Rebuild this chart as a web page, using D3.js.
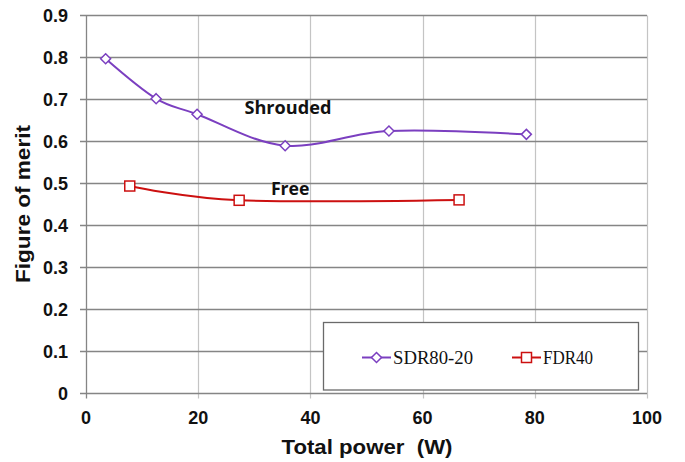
<!DOCTYPE html>
<html><head><meta charset="utf-8">
<script src="https://cdn.jsdelivr.net/npm/d3@7/dist/d3.min.js"></script>
<style>body{margin:0;background:#fff}svg{display:block}</style>
</head><body>
<svg id="c" width="685" height="462"></svg>
<script>
const sdrX = [3.5, 12.5, 19.8, 35.5, 54, 78.5];
const sdrY = [0.797, 0.702, 0.665, 0.590, 0.625, 0.617];
const fdrX = [7.8, 27.3, 66.5];
const fdrY = [0.494, 0.460, 0.461];
const xTicks = [0, 20, 40, 60, 80, 100];
const yTicks = [0, 0.1, 0.2, 0.3, 0.4, 0.5, 0.6, 0.7, 0.8, 0.9];
const seriesNames = ["SDR80-20", "FDR40"];
const annotations = [{text: "Shrouded", x: 36.0, y: 0.6655, w: 87}, {text: "Free", x: 36.4, y: 0.4726, w: 38.6}];

const svg = d3.select("#c");
const x = d3.scaleLinear().domain([0, 100]).range([86, 647]);
const y = d3.scaleLinear().domain([0, 0.9]).range([393.5, 15.5]);
const purple = "#7b3fc0", red = "#cc1010";

// vertical grid
svg.append("g").selectAll("line").data(xTicks.slice(1)).join("line")
  .attr("x1", d => Math.round(x(d)) + 0.5).attr("x2", d => Math.round(x(d)) + 0.5)
  .attr("y1", y(0.9)).attr("y2", y(0) + 5)
  .attr("stroke", "#c4c4c4").attr("stroke-width", 1.2);
// horizontal grid
svg.append("g").selectAll("line").data(yTicks).join("line")
  .attr("x1", 80).attr("x2", 647)
  .attr("y1", d => y(d)).attr("y2", d => y(d))
  .attr("stroke", "#858585").attr("stroke-width", 1.3);
// left axis line
svg.append("line").attr("x1", 86.5).attr("x2", 86.5).attr("y1", y(0.9)).attr("y2", y(0) + 5)
  .attr("stroke", "#858585").attr("stroke-width", 1.3);

// tick labels
svg.append("g").selectAll("text").data(yTicks).join("text")
  .attr("x", 68).attr("y", d => y(d) + 6.5)
  .attr("text-anchor", "end")
  .attr("font-family", "Liberation Sans, Arial, sans-serif").attr("font-weight", "bold").attr("font-size", 18)
  .attr("fill", "#111")
  .text(d => d === 0 ? "0" : d3.format(".1f")(d));
svg.append("g").selectAll("text").data(xTicks).join("text")
  .attr("x", d => x(d)).attr("y", 423.5)
  .attr("text-anchor", "middle")
  .attr("font-family", "Liberation Sans, Arial, sans-serif").attr("font-weight", "bold").attr("font-size", 18)
  .attr("fill", "#111")
  .text(d => d);

// axis titles
svg.append("text").attr("x", 367).attr("y", 453.5).attr("text-anchor", "middle")
  .attr("font-family", "Liberation Sans, Arial, sans-serif").attr("font-weight", "bold").attr("font-size", 20.5)
  .attr("textLength", 171).attr("lengthAdjust", "spacingAndGlyphs")
  .attr("fill", "#111").style("white-space", "pre").text("Total power  (W)");
svg.append("text").attr("transform", "translate(29.5,204) rotate(-90)").attr("text-anchor", "middle")
  .attr("font-family", "Liberation Sans, Arial, sans-serif").attr("font-weight", "bold").attr("font-size", 20.5)
  .attr("textLength", 158).attr("lengthAdjust", "spacingAndGlyphs")
  .attr("fill", "#111").text("Figure of merit");

// lines
const line = d3.line().curve(d3.curveCardinal.tension(0));
svg.append("path").attr("d", line(sdrX.map((v, i) => [x(v), y(sdrY[i])])))
  .attr("fill", "none").attr("stroke", purple).attr("stroke-width", 2);
svg.append("path").attr("d", line(fdrX.map((v, i) => [x(v), y(fdrY[i])])))
  .attr("fill", "none").attr("stroke", red).attr("stroke-width", 2);

// markers
const diamond = (cx, cy, s) => `M${cx},${cy - s}L${cx + s},${cy}L${cx},${cy + s}L${cx - s},${cy}Z`;
svg.append("g").selectAll("path").data(sdrX).join("path")
  .attr("d", (d, i) => diamond(x(d), y(sdrY[i]), 5))
  .attr("fill", "#fff").attr("stroke", purple).attr("stroke-width", 1.5);
svg.append("g").selectAll("rect").data(fdrX).join("rect")
  .attr("x", d => x(d) - 5).attr("y", (d, i) => y(fdrY[i]) - 5)
  .attr("width", 10).attr("height", 10)
  .attr("fill", "#fff").attr("stroke", red).attr("stroke-width", 1.5);

// annotations
svg.append("g").selectAll("text").data(annotations).join("text")
  .attr("x", d => x(d.x)).attr("y", d => y(d.y))
  .attr("text-anchor", "middle")
  .attr("font-family", "Open Sans, Lato, sans-serif").attr("font-weight", "bold").attr("font-size", 18)
  .attr("textLength", d => d.w).attr("lengthAdjust", "spacingAndGlyphs")
  .attr("fill", "#111").text(d => d.text);

// legend
const lg = svg.append("g");
lg.append("rect").attr("x", 323.5).attr("y", 322.5).attr("width", 315).attr("height", 67.5)
  .attr("fill", "#fff").attr("stroke", "#6a6a6a").attr("stroke-width", 1.3);
const legendItems = [{name: seriesNames[0], color: purple, x0: 362, w: 80}, {name: seriesNames[1], color: red, x0: 512, w: 50}];
legendItems.forEach((it, i) => {
  const cy = 357.5;
  lg.append("line").attr("x1", it.x0).attr("x2", it.x0 + 29).attr("y1", cy).attr("y2", cy)
    .attr("stroke", it.color).attr("stroke-width", 2);
  if (i === 0) lg.append("path").attr("d", diamond(it.x0 + 14.5, cy, 5)).attr("fill", "#fff").attr("stroke", it.color).attr("stroke-width", 1.5);
  else lg.append("rect").attr("x", it.x0 + 9.5).attr("y", cy - 5).attr("width", 10).attr("height", 10).attr("fill", "#fff").attr("stroke", it.color).attr("stroke-width", 1.5);
  lg.append("text").attr("x", it.x0 + 31).attr("y", cy + 6.5)
    .attr("font-family", "Liberation Serif, Times New Roman, serif").attr("font-size", 18)
    .attr("textLength", it.w).attr("lengthAdjust", "spacingAndGlyphs")
    .attr("fill", "#111").text(it.name);
});
</script>
</body></html>
